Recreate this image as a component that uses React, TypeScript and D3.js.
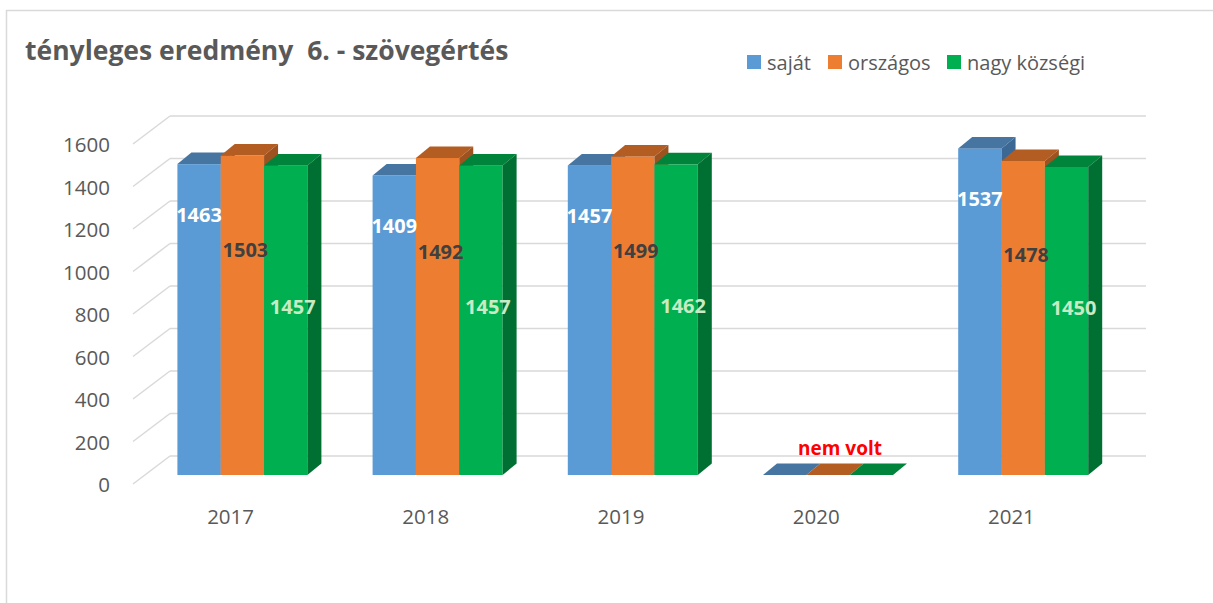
import React from "react";
import * as d3 from "d3";

// data
const years = ["2017", "2018", "2019", "2020", "2021"];
const sajat = [1463, 1409, 1457, null, 1537];
const orszagos = [1503, 1492, 1499, null, 1478];
const nagyKozsegi = [1457, 1457, 1462, null, 1450];
const seriesNames = ["saját", "országos", "nagy községi"];
const yTicks = [0, 200, 400, 600, 800, 1000, 1200, 1400, 1600];
const missingText = "nem volt";

const W = 1213;
const H = 603;

// colours per series: front, top, side, label
const front = ["#5B9BD5", "#ED7D31", "#00B050"];
const topC = ["#4675A2", "#B35D23", "#00843B"];
const side = ["#3C6895", "#9E5220", "#007032"];
const labelC = ["#FFFFFF", "#404040", "#C8EBC4"];
const labelDy = [50, 94, 141];
const labelDx = [0, 3, 7];

const font = "'Open Sans', 'Noto Sans', sans-serif";

export default function App() {
  const values = [sajat, orszagos, nagyKozsegi];

  // front plane of the 3d box
  const x = d3.scaleBand().domain(years).range([133, 1109]);
  const y = d3.scaleLinear().domain([0, 1600]).range([484, 144]);

  // depth of the floor, and where the bars sit in it
  const depth = { dx: 37, dy: -28 };
  const barOff = { dx: 11.8, dy: -9 };
  const barDepth = { dx: 14, dy: -11.5 };

  const groupW = x.bandwidth() * 0.666;
  const inner = d3.scaleBand().domain(d3.range(3).map(String)).range([0, groupW]);
  const bw = inner.bandwidth();

  const bars: JSX.Element[] = [];
  const labels: JSX.Element[] = [];

  years.forEach((yr, ci) => {
    const gx = x(yr)! + x.bandwidth() / 2 - groupW / 2 + barOff.dx;
    values.forEach((ser, si) => {
      const v = ser[ci] ?? 0;
      const x0 = gx + inner(String(si))!;
      const x1 = x0 + bw;
      const yb = y(0) + barOff.dy;
      const yt = y(v) + barOff.dy;
      const ddx = barDepth.dx;
      const ddy = barDepth.dy;
      bars.push(
        <g key={yr + si}>
          {v > 0 && <rect x={x0} y={yt} width={bw} height={yb - yt} fill={front[si]} />}
          <path
            d={`M${x0},${yt}L${x1},${yt}L${x1 + ddx},${yt + ddy}L${x0 + ddx},${yt + ddy}Z`}
            fill={topC[si]}
          />
          {v > 0 && (
            <path
              d={`M${x1},${yt}L${x1 + ddx},${yt + ddy}L${x1 + ddx},${yb + ddy}L${x1},${yb}Z`}
              fill={side[si]}
            />
          )}
        </g>
      );
      if (ser[ci] != null) {
        labels.push(
          <text
            key={"l" + yr + si}
            x={x0 + bw / 2 + labelDx[si]}
            y={yt + labelDy[si]}
            textAnchor="middle"
            dominantBaseline="central"
            fontFamily={font}
            fontWeight="bold"
            fontSize={20}
            fill={labelC[si]}
          >
            {ser[ci]}
          </text>
        );
      }
    });
    if (values.every((s) => s[ci] == null)) {
      labels.push(
        <text
          key={"m" + yr}
          x={gx + groupW / 2 + 12}
          y={y(0) + barOff.dy - 27}
          textAnchor="middle"
          dominantBaseline="central"
          fontFamily={font}
          fontWeight="bold"
          fontSize={19}
          fill="#FF0000"
        >
          {missingText}
        </text>
      );
    }
  });

  const legendX = [747, 828, 947];

  return (
    <svg
      width={W}
      height={H}
      style={{ position: "absolute", left: 0, top: 0, background: "#fff" }}
    >
      <rect x={6.5} y={10.5} width={W + 20} height={H + 20} fill="#fff" stroke="#D9D9D9" strokeWidth={1.5} />

      <text
        x={25}
        y={60}
        fontFamily={font}
        fontWeight="bold"
        fontSize={26.5}
        fill="#595959"
        style={{ whiteSpace: "pre" }}
      >
        {"tényleges eredmény  6. - szövegértés"}
      </text>

      {seriesNames.map((n, i) => (
        <g key={n}>
          <rect x={legendX[i]} y={55} width={14} height={14} fill={front[i]} />
          <text
            x={legendX[i] + 20}
            y={62}
            dominantBaseline="central"
            fontFamily={font}
            fontSize={20}
            fill="#595959"
          >
            {n}
          </text>
        </g>
      ))}

      {/* side wall and back wall gridlines */}
      {yTicks.map((t) => (
        <g key={t} stroke="#D9D9D9" strokeWidth={1.5} fill="none">
          <line x1={133} y1={y(t)} x2={133 + depth.dx} y2={y(t) + depth.dy} />
          <line x1={133 + depth.dx} y1={y(t) + depth.dy} x2={1109 + depth.dx} y2={y(t) + depth.dy} />
        </g>
      ))}

      {yTicks.map((t) => (
        <text
          key={"t" + t}
          x={110}
          y={y(t)}
          textAnchor="end"
          dominantBaseline="central"
          fontFamily={font}
          fontSize={20.5}
          fill="#595959"
        >
          {t}
        </text>
      ))}

      {years.map((yr) => (
        <text
          key={"c" + yr}
          x={x(yr)! + x.bandwidth() / 2}
          y={516}
          textAnchor="middle"
          dominantBaseline="central"
          fontFamily={font}
          fontSize={20.5}
          fill="#595959"
        >
          {yr}
        </text>
      ))}

      {bars}
      {labels}
    </svg>
  );
}
